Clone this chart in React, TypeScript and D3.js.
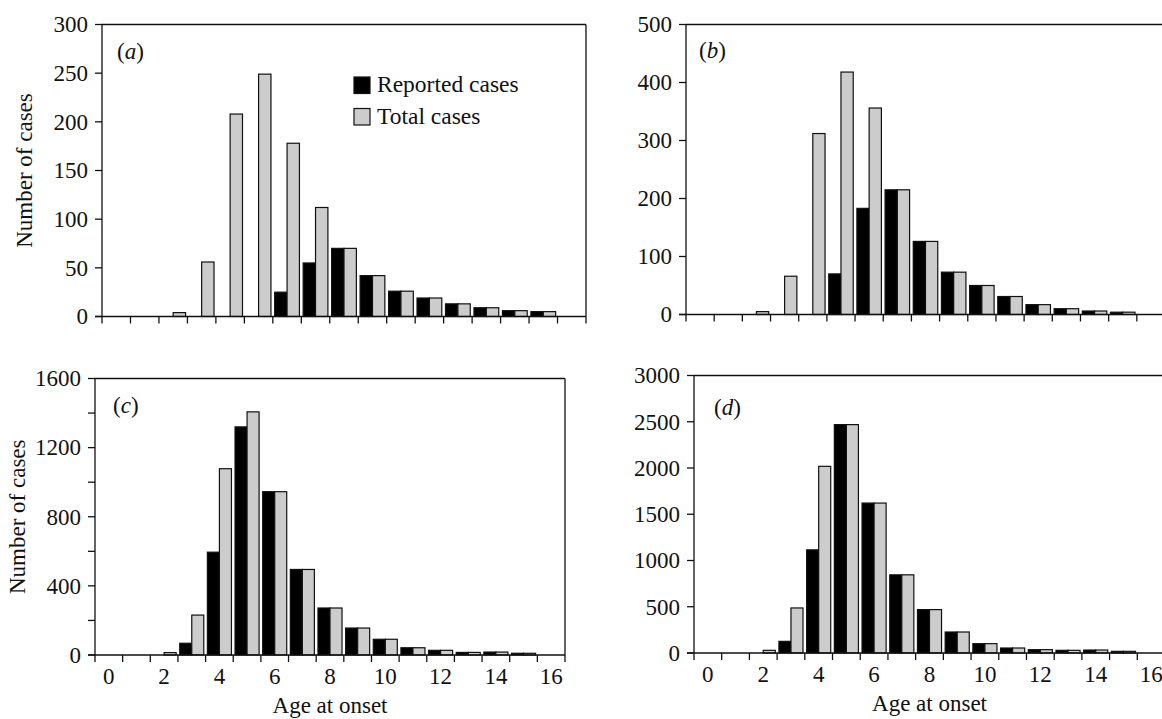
import React from 'react';
import * as d3 from 'd3';

// Age at onset categories (years)
const AGES = [0, 1, 2, 3, 4, 5, 6, 7, 8, 9, 10, 11, 12, 13, 14, 15, 16];
const X_LABELS = [0, 2, 4, 6, 8, 10, 12, 14, 16];

// (a)
const REPORTED_A = [0, 0, 0, 0, 0, 0, 25, 55, 70, 42, 26, 19, 13, 9, 6, 5, 0];
const TOTAL_A = [0, 0, 4, 56, 208, 249, 178, 112, 70, 42, 26, 19, 13, 9, 6, 5, 0];
const Y_TICKS_A = [0, 50, 100, 150, 200, 250, 300];

// (b)
const REPORTED_B = [0, 0, 0, 0, 0, 70, 183, 215, 126, 73, 50, 31, 17, 10, 6, 4, 0];
const TOTAL_B = [0, 0, 5, 66, 312, 418, 356, 215, 126, 73, 50, 31, 17, 10, 6, 4, 0];
const Y_TICKS_B = [0, 100, 200, 300, 400, 500];

// (c)
const REPORTED_C = [0, 0, 0, 68, 595, 1320, 945, 495, 272, 156, 91, 42, 27, 15, 17, 10, 0];
const TOTAL_C = [0, 0, 14, 231, 1078, 1407, 945, 495, 272, 156, 91, 42, 27, 15, 17, 10, 0];
const Y_TICKS_C = [0, 200, 400, 600, 800, 1000, 1200, 1400, 1600];
const Y_LABELS_C = [0, 400, 800, 1200, 1600];

// (d)
const REPORTED_D = [0, 0, 0, 126, 1115, 2469, 1621, 845, 469, 227, 101, 54, 36, 29, 32, 18, 0];
const TOTAL_D = [0, 0, 29, 487, 2018, 2469, 1621, 845, 469, 227, 101, 54, 36, 29, 32, 18, 0];
const Y_TICKS_D = [0, 500, 1000, 1500, 2000, 2500, 3000];

const SERIES = ['reported', 'total'];
const FONT = '"Liberation Serif", "Times New Roman", serif';
const INK = '#111';
const GREY = '#cccccc';
const FS = 23;

type PanelSpec = {
  letter: string;
  left: number;
  right: number;
  top: number;
  bottom: number;
  max: number;
  reported: number[];
  total: number[];
  yTicks: number[];
  yLabels: number[];
  showX: boolean;
  yTitleX: number | null;
  letterX: number;
  letterY: number;
  legend: boolean;
};

const PANELS: PanelSpec[] = [
  {
    letter: 'a', left: 102, right: 586, top: 24.5, bottom: 316.5, max: 300,
    reported: REPORTED_A, total: TOTAL_A, yTicks: Y_TICKS_A, yLabels: Y_TICKS_A,
    showX: false, yTitleX: 32, letterX: 117, letterY: 59, legend: true,
  },
  {
    letter: 'b', left: 686, right: 1165, top: 24.5, bottom: 314.5, max: 500,
    reported: REPORTED_B, total: TOTAL_B, yTicks: Y_TICKS_B, yLabels: Y_TICKS_B,
    showX: false, yTitleX: null, letterX: 699, letterY: 58, legend: false,
  },
  {
    letter: 'c', left: 95, right: 565, top: 378.5, bottom: 655, max: 1600,
    reported: REPORTED_C, total: TOTAL_C, yTicks: Y_TICKS_C, yLabels: Y_LABELS_C,
    showX: true, yTitleX: 25, letterX: 113, letterY: 413, legend: false,
  },
  {
    letter: 'd', left: 694, right: 1165, top: 375.5, bottom: 653, max: 3000,
    reported: REPORTED_D, total: TOTAL_D, yTicks: Y_TICKS_D, yLabels: Y_TICKS_D,
    showX: true, yTitleX: null, letterX: 714, letterY: 415, legend: false,
  },
];

function Panel({ p }: { p: PanelSpec }) {
  const x = d3.scaleBand<number>().domain(AGES).range([p.left, p.right]).paddingInner(0).paddingOuter(0);
  const inner = d3.scaleBand<string>().domain(SERIES).range([0, x.bandwidth()]).paddingInner(0).paddingOuter(0.15);
  const y = d3.scaleLinear().domain([0, p.max]).range([p.bottom, p.top]);
  const boundaries = AGES.map((a) => x(a) as number).concat([p.right]);

  const bars: JSX.Element[] = [];
  AGES.forEach((age, i) => {
    const vals = [p.reported[i], p.total[i]];
    SERIES.forEach((s, j) => {
      const v = vals[j];
      if (v <= 0) return;
      bars.push(
        <rect
          key={`${s}-${age}`}
          x={(x(age) as number) + (inner(s) as number)}
          y={y(v)}
          width={inner.bandwidth()}
          height={p.bottom - y(v)}
          fill={j === 0 ? '#000' : GREY}
          stroke={INK}
          strokeWidth={1.2}
        />
      );
    });
  });

  return (
    <g>
      {bars}
      {/* frame */}
      <line x1={p.left} x2={p.right} y1={p.top} y2={p.top} stroke={INK} strokeWidth={1.3} />
      <line x1={p.right} x2={p.right} y1={p.top} y2={p.bottom} stroke={INK} strokeWidth={1.3} />
      <line x1={p.left} x2={p.left} y1={p.top} y2={p.bottom} stroke={INK} strokeWidth={1.3} />
      <line x1={p.left - 7} x2={p.right} y1={p.bottom} y2={p.bottom} stroke={INK} strokeWidth={1.3} />
      {/* y ticks */}
      {p.yTicks.map((t) => (
        <line key={`yt${t}`} x1={p.left - 7} x2={p.left} y1={y(t)} y2={y(t)} stroke={INK} strokeWidth={1.3} />
      ))}
      {p.yLabels.map((t) => (
        <text key={`yl${t}`} x={p.left - 14} y={y(t)} dy="0.34em" textAnchor="end" fontSize={FS} fontFamily={FONT} fill={INK}>
          {t}
        </text>
      ))}
      {/* x ticks at category boundaries */}
      {boundaries.map((bx, i) => (
        <line key={`xt${i}`} x1={bx} x2={bx} y1={p.bottom} y2={p.bottom + 7} stroke={INK} strokeWidth={1.3} />
      ))}
      {p.showX &&
        X_LABELS.map((a) => (
          <text key={`xl${a}`} x={(x(a) as number) + x.bandwidth() / 2} y={p.bottom + 29} textAnchor="middle" fontSize={FS} fontFamily={FONT} fill={INK}>
            {a}
          </text>
        ))}
      {p.showX && (
        <text x={(p.left + p.right) / 2} y={p.bottom + 58} textAnchor="middle" fontSize={FS} fontFamily={FONT} fill={INK}>
          Age at onset
        </text>
      )}
      {p.yTitleX !== null && (
        <text
          transform={`translate(${p.yTitleX},${(p.top + p.bottom) / 2}) rotate(-90)`}
          textAnchor="middle"
          fontSize={FS}
          fontFamily={FONT}
          fill={INK}
        >
          Number of cases
        </text>
      )}
      <text x={p.letterX} y={p.letterY} fontSize={FS} fontFamily={FONT} fill={INK}>
        (<tspan fontStyle="italic">{p.letter}</tspan>)
      </text>
      {p.legend && (
        <g fontFamily={FONT} fontSize={FS + 0.5} fill={INK}>
          <rect x={354} y={77} width={16} height={16.5} fill="#000" stroke={INK} strokeWidth={1.2} />
          <text x={377} y={92}>Reported cases</text>
          <rect x={354} y={108.5} width={16} height={16.5} fill={GREY} stroke={INK} strokeWidth={1.2} />
          <text x={377} y={123.5}>Total cases</text>
        </g>
      )}
    </g>
  );
}

export default function App() {
  return (
    <svg
      width={1162}
      height={719}
      viewBox="0 0 1162 719"
      style={{ position: 'absolute', left: 0, top: 0, background: '#fff' }}
    >
      <rect x={0} y={0} width={1162} height={719} fill="#fff" />
      {PANELS.map((p) => (
        <Panel key={p.letter} p={p} />
      ))}
    </svg>
  );
}
